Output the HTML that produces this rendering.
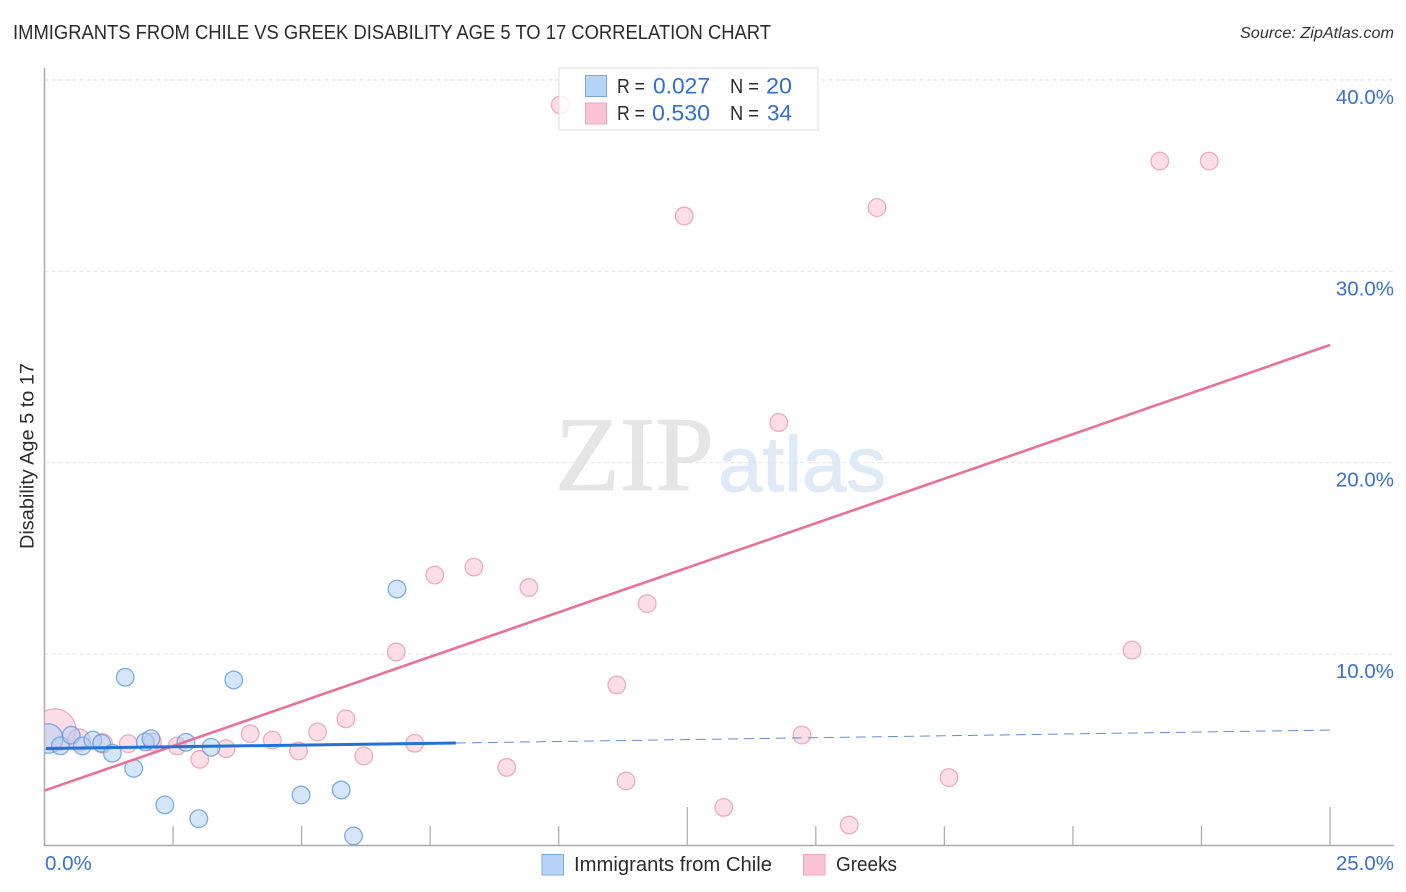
<!DOCTYPE html>
<html>
<head>
<meta charset="utf-8">
<title>Immigrants from Chile vs Greek Disability Age 5 to 17 Correlation Chart</title>
<style>
html,body{margin:0;padding:0;background:#fff;}
svg{display:block;font-family:"Liberation Sans",sans-serif;}
</style>
</head>
<body>
<svg id="chart" width="1406" height="892" viewBox="0 0 1406 892" xmlns="http://www.w3.org/2000/svg">
  <defs><clipPath id="plot-clip"><rect x="44.5" y="60" width="1350" height="785.5"/></clipPath></defs>
  <text x="13" y="39" font-size="20" fill="#2b2b2b" textLength="758" lengthAdjust="spacingAndGlyphs">IMMIGRANTS FROM CHILE VS GREEK DISABILITY AGE 5 TO 17 CORRELATION CHART</text>
  <text x="1394" y="38" font-size="15.5" font-style="italic" fill="#333" text-anchor="end" textLength="154" lengthAdjust="spacingAndGlyphs">Source: ZipAtlas.com</text>
  <g>
    <text x="555" y="490" font-family="'Liberation Serif',serif" font-size="106" fill="#e5e5e5" stroke="#e5e5e5" stroke-width="1" textLength="159" lengthAdjust="spacingAndGlyphs">ZIP</text>
    <text x="718" y="491" font-size="78" fill="#dfe9f8" stroke="#dfe9f8" stroke-width="1" textLength="168" lengthAdjust="spacingAndGlyphs">atlas</text>
  </g>
  <g id="grid"></g>
  <g id="axes"></g>
  <g id="points" clip-path="url(#plot-clip)"></g>
  <g id="trends"></g>
  <text transform="translate(33.5,456) rotate(-90)" font-size="19" fill="#2b2b2b" text-anchor="middle" textLength="186" lengthAdjust="spacingAndGlyphs">Disability Age 5 to 17</text>
  <g>
    <rect x="559" y="68" width="259" height="62" fill="#fff" fill-opacity="0.82" stroke="#dedede" stroke-width="1"/>
    <rect x="585.5" y="75.5" width="21" height="21" fill="#b6d3f8" stroke="#7aa9e2"/>
    <rect x="585.5" y="103" width="21" height="21" fill="#fcc3d6" stroke="#f0a3bd"/>
    <g font-size="20" fill="#2b2b2b">
      <text x="617" y="93" textLength="28" lengthAdjust="spacingAndGlyphs">R =</text>
      <text x="730" y="93" textLength="29" lengthAdjust="spacingAndGlyphs">N =</text>
      <text x="617" y="120" textLength="28" lengthAdjust="spacingAndGlyphs">R =</text>
      <text x="730" y="120" textLength="29" lengthAdjust="spacingAndGlyphs">N =</text>
    </g>
    <g font-size="22" fill="#2f6fd0">
      <text x="653" y="93.5" textLength="57" lengthAdjust="spacingAndGlyphs">0.027</text>
      <text x="766" y="93.5" textLength="26" lengthAdjust="spacingAndGlyphs">20</text>
      <text x="652" y="120.5" textLength="58" lengthAdjust="spacingAndGlyphs">0.530</text>
      <text x="767" y="120.5" textLength="25" lengthAdjust="spacingAndGlyphs">34</text>
    </g>
  </g>
  <g>
    <rect x="542" y="854.5" width="21.5" height="20.5" fill="#b6d3f8" stroke="#7aa9e2"/>
    <text x="574" y="871" font-size="20" fill="#2b2b2b" textLength="198" lengthAdjust="spacingAndGlyphs">Immigrants from Chile</text>
    <rect x="803.5" y="854.5" width="21.5" height="20.5" fill="#fcc3d6" stroke="#f0a3bd"/>
    <text x="836" y="871" font-size="20" fill="#2b2b2b" textLength="61" lengthAdjust="spacingAndGlyphs">Greeks</text>
  </g>
</svg>
<script>
const yTicks = [10, 20, 30, 40];
const yTickLabels = ["10.0%", "20.0%", "30.0%", "40.0%"];
const xTicks = [2.5, 5, 7.5, 10, 12.5, 15, 17.5, 20, 22.5, 25];
const xMajorTicks = [12.5, 25];
const xEndLabels = ["0.0%", "25.0%"];

const chileX = [1.57, 3.68, 0.07, 0.31, 0.52, 0.735, 0.94, 1.11, 1.32, 1.735, 1.96, 2.07, 2.75, 3.24, 2.34, 3.0, 4.99, 5.77, 6.01, 6.855];
const chileY = [8.79, 8.65, 5.59, 5.21, 5.76, 5.20, 5.51, 5.34, 4.82, 4.03, 5.41, 5.58, 5.39, 5.13, 2.12, 1.40, 2.64, 2.90, 0.50, 13.40];
const chileWeight = [1, 1, 2.8, 1, 1, 1, 1, 1, 1, 1, 1, 1, 1, 1, 1, 1, 1, 1, 1, 1];

const greekX = [0.20, 0.67, 1.13, 1.63, 2.10, 2.58, 3.02, 3.53, 4.00, 4.43, 4.94, 5.31, 5.86, 6.21, 7.20, 6.84, 7.59, 8.35, 9.42, 10.03, 11.72, 11.13, 11.31, 8.99, 13.21, 12.44, 14.28, 14.73, 15.65, 16.19, 17.59, 21.15, 21.69, 22.65];
const greekY = [6.03, 5.51, 5.34, 5.32, 5.41, 5.20, 4.50, 5.06, 5.84, 5.51, 4.94, 5.93, 6.62, 4.68, 5.34, 10.11, 14.13, 14.55, 13.48, 38.69, 12.64, 8.39, 3.37, 4.08, 1.99, 32.89, 22.10, 5.77, 1.07, 33.33, 3.55, 10.21, 35.76, 35.76];
const greekWeight = [5.8, 1.6, 1.2, 1, 1, 1, 1, 1, 1, 1, 1, 1, 1, 1, 1, 1, 1, 1, 1, 1, 1, 1, 1, 1, 1, 1, 1, 1, 1, 1, 1, 1, 1, 1];

const chileTrendX = [0.03, 8, 25];
const chileTrendY = [5.07, 5.355, 6.03];
const greekTrendX = [0, 25];
const greekTrendY = [2.87, 26.15];

const NS = "http://www.w3.org/2000/svg";
const sx = v => 44.5 + v * 51.42;
const sy = v => 845.5 - v * 19.14;
const radius = w => 8.8 * Math.sqrt(w);

function mk(tag, attrs, parent, text) {
  const el = document.createElementNS(NS, tag);
  for (const k in attrs) el.setAttribute(k, attrs[k]);
  if (text !== undefined) el.textContent = text;
  parent.appendChild(el);
  return el;
}

const grid = document.getElementById("grid");
const axes = document.getElementById("axes");
const points = document.getElementById("points");
const trends = document.getElementById("trends");

const topGrid = mk("line", {x1: 44.5, x2: 1394, y1: 80, y2: 80, stroke: "#dcdcdc", "stroke-width": 1, "stroke-dasharray": "4 3"}, grid);


yTicks.forEach((t, i) => {
  const ln = mk("line", {x1: 44.5, x2: 1394, y1: sy(t), y2: sy(t), stroke: "#e2e2e2", "stroke-width": 1, "stroke-dasharray": "4 3"}, grid);
  
  
  const lb = mk("text", {x: 1394, y: sy(t) + 24, "font-size": 20.5, fill: "#3b6fd0", "text-anchor": "end"}, axes, yTickLabels[i]);
  
  
});

const yAxis = mk("line", {x1: 44.5, x2: 44.5, y1: 68, y2: 846, stroke: "#aaa", "stroke-width": 1.5}, axes);


const xAxis = mk("line", {x1: 44, x2: 1394, y1: 845.5, y2: 845.5, stroke: "#aaa", "stroke-width": 1.5}, axes);


xTicks.forEach(t => {
  const top = xMajorTicks.includes(t) ? 807 : 826;
  const tk = mk("line", {x1: sx(t), x2: sx(t), y1: top, y2: 845.5, stroke: "#aaa", "stroke-width": 1.2}, axes);
  
  
});
const xStart = mk("text", {x: 45, y: 870, "font-size": 20.5, fill: "#3b6fd0"}, axes, xEndLabels[0]);


const xEnd = mk("text", {x: 1394, y: 870, "font-size": 20.5, fill: "#3b6fd0", "text-anchor": "end"}, axes, xEndLabels[1]);



greekX.forEach((x, i) => {
  const c = mk("circle", {cx: sx(x), cy: sy(greekY[i]), r: radius(greekWeight[i]), fill: "#fbc3d5", "fill-opacity": 0.55, stroke: "#ec9db6", "stroke-opacity": 0.85, "stroke-width": 1.3}, points);
  
  
});
chileX.forEach((x, i) => {
  const c = mk("circle", {cx: sx(x), cy: sy(chileY[i]), r: radius(chileWeight[i]), fill: "#aecdf6", "fill-opacity": 0.5, stroke: "#5f9ae0", "stroke-opacity": 0.8, "stroke-width": 1.3}, points);
  
  
});

const greekLine = mk("line", {x1: sx(greekTrendX[0]), y1: sy(greekTrendY[0]), x2: sx(greekTrendX[1]), y2: sy(greekTrendY[1]), stroke: "#e8709b", "stroke-width": 2.6}, trends);


const chileSolid = mk("line", {x1: sx(chileTrendX[0]), y1: sy(chileTrendY[0]), x2: sx(chileTrendX[1]), y2: sy(chileTrendY[1]), stroke: "#2272d8", "stroke-width": 3}, trends);


const chileDash = mk("line", {x1: sx(chileTrendX[1]), y1: sy(chileTrendY[1]), x2: sx(chileTrendX[2]), y2: sy(chileTrendY[2]), stroke: "#5f8fcf", "stroke-width": 1, "stroke-dasharray": "10 6"}, trends);


</script>
</body>
</html>
